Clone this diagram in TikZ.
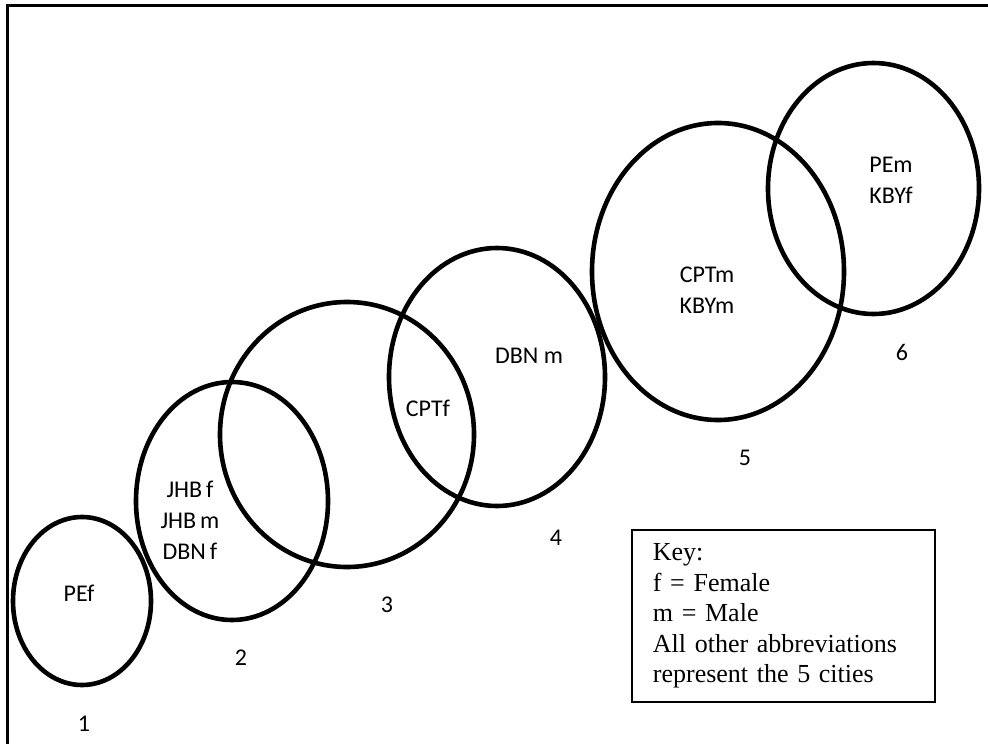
\documentclass[tikz,border=0pt]{standalone}
\usepackage{fontspec}
\setmainfont{Liberation Serif}
\newfontfamily\labelfont{Carlito}
\usetikzlibrary{shapes.geometric}

\begin{document}
\begin{tikzpicture}[x=1pt, y=-1pt, font=\labelfont\fontsize{24}{31}\selectfont,
		ring/.style={draw, ellipse, line width=4.6pt, inner sep=0}]
	\useasboundingbox (0,0) rectangle (988,744);
	\draw[line width=2.2pt] (7.5,744) -- (7.5,5.5) -- (988,5.5);

	\node[ring, minimum width=138pt, minimum height=168pt] (ring1) at (82,601)		{};
	\node[ring, minimum width=192pt, minimum height=238pt] (ring2) at (232,501)		{};
	\node[ring, minimum width=254pt, minimum height=265pt] (ring3) at (347,434.5)	{};
	\node[ring, minimum width=216pt, minimum height=258pt] (ring4) at (497,377)		{};
	\node[ring, minimum width=252pt, minimum height=297pt] (ring5) at (718,271.5)	{};
	\node[ring, minimum width=211pt, minimum height=251pt] (ring6) at (873.5,188.5)	{};

	\node (PEf) at (79,593)						{PEf};
	\node[align=center] (JHB) at (190,520)		{JHB\,f\\JHB\,m\\DBN\,f};
	\node (CPTf) at (428,408)					{CPTf};
	\node (DBNm) at (529,356)					{DBN m};
	\node[align=center] (CPTm) at (707,290)		{CPTm\\KBYm};
	\node[align=center] (PEm) at (891,180)		{PEm\\KBYf};

	\node (num1) at (84,724)	{1};
	\node (num2) at (241,658)	{2};
	\node (num3) at (387,605)	{3};
	\node (num4) at (556,538)	{4};
	\node (num5) at (745,458)	{5};
	\node (num6) at (902,352)	{6};

	\node[draw, line width=1.8pt, anchor=north west, minimum width=303pt, minimum height=172pt, text width=261pt, inner xsep=21pt, align=left, font=\rmfamily\fontsize{26}{30.5}\selectfont] (key) at (631,529)
		{Key:\\f = Female\\m = Male\\All other abbreviations\\represent the 5 cities};
\end{tikzpicture}
\end{document}
